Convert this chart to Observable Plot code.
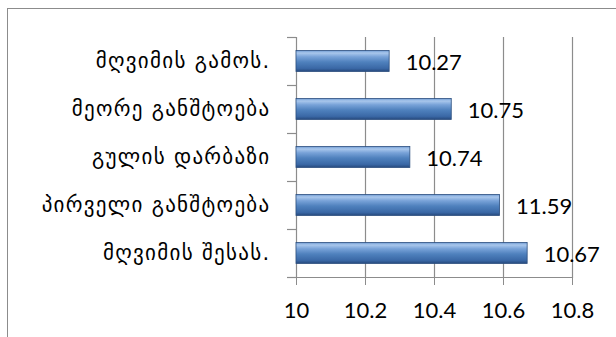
<!DOCTYPE html>
<html>
<head>
<meta charset="utf-8">
<script src="https://cdn.jsdelivr.net/npm/d3@7"></script>
<script src="https://cdn.jsdelivr.net/npm/@observablehq/plot@0.6"></script>
<style>
  html, body { margin: 0; padding: 0; background: #fff; }
  #wrap { position: relative; width: 616px; height: 337px; overflow: hidden; }
  #frame { position: absolute; left: 7px; top: 8px; width: 700px; height: 400px; border: 1.5px solid #8c8c8c; box-sizing: border-box; }
  #chart { position: absolute; left: 0; top: 0; }
  .ylab text { letter-spacing: 1.3px; }
</style>
</head>
<body>
<div id="wrap"><div id="frame"></div><div id="chart"></div></div>
<script>
const categories = ["მღვიმის გამოს.", "მეორე განშტოება", "გულის დარბაზი", "პირველი განშტოება", "მღვიმის შესას."];
const barValues = [10.27, 10.45, 10.33, 10.59, 10.67];
const labelTexts = ["10.27", "10.75", "10.74", "11.59", "10.67"];
const xTicks = [10, 10.2, 10.4, 10.6, 10.8];

const data = categories.map((c, i) => ({cat: c, v: barValues[i], label: labelTexts[i]}));

const defs = () => {
  const d = d3.create("svg:defs");
  const g = d.append("linearGradient").attr("id", "barGrad").attr("x1", 0).attr("y1", 0).attr("x2", 0).attr("y2", 1);
  [["0%", "#6f9bd3"], ["12%", "#a9c7ec"], ["30%", "#78a2d8"], ["55%", "#4f81bd"], ["85%", "#3a68a6"], ["100%", "#26497c"]]
    .forEach(([o, c]) => g.append("stop").attr("offset", o).attr("stop-color", c));
  return d.node();
};

const gray = "#8c8c8c";
const plot = Plot.plot({
  width: 616,
  height: 337,
  marginLeft: 296,
  marginRight: 44,
  marginTop: 37,
  marginBottom: 60,
  style: {fontFamily: "Lato, sans-serif", background: "transparent", overflow: "visible"},
  x: {domain: [10, 10.8], ticks: xTicks},
  y: {domain: categories, padding: 0},
  marks: [
    defs,
    Plot.gridX(xTicks.slice(1), {stroke: gray, strokeOpacity: 1, strokeWidth: 1.2}),
    Plot.ruleX([10], {stroke: gray, strokeWidth: 1.2}),
    Plot.frame({anchor: "bottom", stroke: gray, strokeWidth: 1.2}),
    Plot.ruleY(categories, {y: d => d, x1: 10, x2: 10, insetLeft: -9, dy: -24, stroke: gray, strokeWidth: 1.2}),
    Plot.ruleY(categories.slice(-1), {y: d => d, x1: 10, x2: 10, insetLeft: -9, dy: 24, stroke: gray, strokeWidth: 1.2}),
    Plot.barX(data, {y: "cat", x1: 10, x2: "v", insetTop: 13.5, insetBottom: 13.5, fill: "url(#barGrad)", stroke: "#2c4f7f", strokeWidth: 0.8}),
    Plot.text(data, {y: "cat", x: "v", text: "label", textAnchor: "start", dx: 16, dy: 1, fontSize: 22, fill: "#000"}),
    Plot.axisX({ticks: xTicks, tickSize: 8, stroke: gray, tickPadding: 17, fontSize: 22, fill: "#000", tickFormat: d => String(d), label: null}),
    Plot.axisY({tickSize: 0, tickPadding: 26, fontSize: 21, fontFamily: "DejaVu Sans", fill: "#000", label: null, className: "ylab"})
  ]
});
document.getElementById("chart").appendChild(plot);
</script>
</body>
</html>
